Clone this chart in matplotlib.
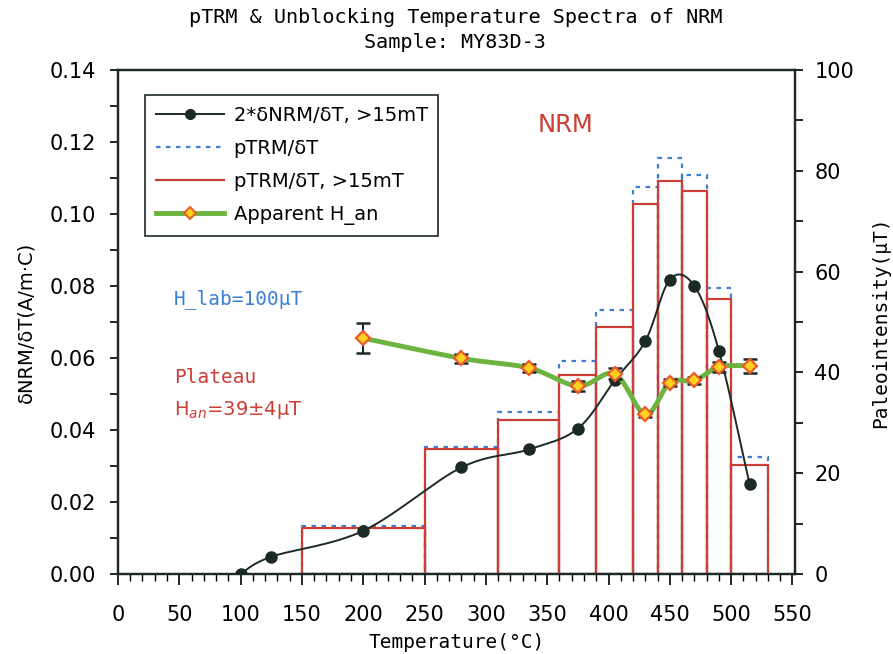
import matplotlib
matplotlib.use("Agg")
import matplotlib.pyplot as plt
import numpy as np
from matplotlib.lines import Line2D
from matplotlib.ticker import MultipleLocator

# Temperature steps (deg C) and the pTRM histogram bin edges
BIN_EDGES = [150, 250, 310, 360, 390, 420, 440, 460, 480, 500, 530]
PTRM_ALL = [0.0133, 0.0354, 0.0449, 0.0593, 0.0733, 0.1076, 0.1155, 0.1109, 0.0795, 0.0324]
PTRM_15MT = [0.0128, 0.0348, 0.0427, 0.0552, 0.0687, 0.1028, 0.1093, 0.1065, 0.0765, 0.0304]

# 2 * dNRM/dT above 15 mT
NRM_T = [100, 125, 200, 280, 335, 375, 405, 430, 450, 470, 490, 515]
NRM_VAL = [0.0000, 0.0048, 0.0120, 0.0296, 0.0346, 0.0404, 0.0538, 0.0647, 0.0818, 0.0800, 0.0620, 0.0250]

# apparent paleointensity per step (uT) and its error
HAN_T = [200, 280, 335, 375, 405, 430, 450, 470, 490, 515]
HAN_VAL = [46.8, 42.8, 40.9, 37.3, 39.7, 31.7, 38.0, 38.4, 41.1, 41.3]
HAN_ERR = [3.0, 0.9, 0.8, 1.05, 1.1, 0.5, 0.65, 0.65, 1.05, 1.45]

RED = "#cc3d34"
BLUE = "#3a7fd4"
GREEN = "#6db33f"
DARK = "#1c2a25"
MONO = "DejaVu Sans Mono"


def smooth_curve(x, y, xspan, yspan, n=30):
    """Bezier smoothing through the points (same idea as a spreadsheet 'smoothed line')."""
    px = np.asarray(x, float) / xspan
    py = np.asarray(y, float) / yspan
    pts = np.column_stack([px, py])
    pts = np.vstack([pts[0], pts, pts[-1]])
    out = []
    t = np.linspace(0, 1, n)[:, None]
    for i in range(1, len(pts) - 2):
        p0, p1, p2, p3 = pts[i - 1], pts[i], pts[i + 1], pts[i + 2]
        c1 = p1 + (p2 - p0) / 6
        c2 = p2 - (p3 - p1) / 6
        seg = ((1 - t) ** 3) * p1 + 3 * ((1 - t) ** 2) * t * c1 + 3 * (1 - t) * t ** 2 * c2 + t ** 3 * p2
        out.append(seg)
    out = np.vstack(out)
    return out[:, 0] * xspan, out[:, 1] * yspan


fig = plt.figure(figsize=(8.93, 6.54), dpi=100)
ax = fig.add_axes([0.1321, 0.1223, 0.7581, 0.7706])
ax2 = ax.twinx()

edges = np.array(BIN_EDGES, float)
widths = np.diff(edges)
ax.bar(edges[:-1], PTRM_ALL, width=widths, align="edge", fill=False,
       edgecolor=BLUE, linestyle=(0, (2, 2.5)), linewidth=1.6, zorder=2)
ax.bar(edges[:-1], PTRM_15MT, width=widths, align="edge", fill=False,
       edgecolor=RED, linewidth=1.6, zorder=3)

# NRM curve, x/y scaled by the axes' pixel size before smoothing
sx, sy = smooth_curve(NRM_T, NRM_VAL, 552 / 677, 0.14 / 504)
ax.plot(sx, sy, color=DARK, linewidth=1.4, zorder=4)
ax.plot(NRM_T, NRM_VAL, "o", color=DARK, markersize=8, zorder=5)

ax.set_xlim(0, 552)
ax.set_ylim(0, 0.14)
ax.xaxis.set_major_locator(MultipleLocator(50))
ax.xaxis.set_minor_locator(MultipleLocator(10))
ax.yaxis.set_major_locator(MultipleLocator(0.02))
ax.yaxis.set_minor_locator(MultipleLocator(0.01))
ax.yaxis.set_major_formatter(plt.FuncFormatter(lambda v, p: f"{v:.2f}"))
ax.tick_params(axis="x", which="major", direction="out", length=8, width=1.2, labelsize=15, pad=14)
ax.tick_params(axis="x", which="minor", direction="out", length=5, width=1.0)
ax.tick_params(axis="y", which="both", direction="out", length=6, width=1.2, labelsize=15, pad=10)
for s in ax.spines.values():
    s.set_linewidth(1.6)
    s.set_color(DARK)

# apparent H_an on the right axis
hx, hy = smooth_curve(HAN_T, HAN_VAL, 552 / 677, 100 / 504)
ax2.plot(hx, hy, color=GREEN, linewidth=3.5, zorder=3, solid_capstyle="round")
ax2.errorbar(HAN_T, HAN_VAL, yerr=HAN_ERR, fmt="none", ecolor=DARK,
             elinewidth=1.5, capsize=5, capthick=1.8, zorder=4)
ax2.plot(HAN_T, HAN_VAL, "D", markersize=7, markerfacecolor="#ffd21f",
         markeredgecolor="#ea5a2a", markeredgewidth=1.6, zorder=5)
ax2.set_ylim(0, 100)
ax2.yaxis.set_major_locator(MultipleLocator(20))
ax2.yaxis.set_minor_locator(MultipleLocator(10))
ax2.tick_params(axis="y", which="both", direction="out", length=6, width=1.2, labelsize=15, pad=8)
for s in ax2.spines.values():
    s.set_linewidth(1.6)
    s.set_color(DARK)

ax.set_xlabel("Temperature(°C)", family=MONO, fontsize=14, labelpad=6)
ax.set_ylabel("δNRM/δT(A/m·C)", fontsize=14, labelpad=10)
ax2.set_ylabel("Paleointensity(μT)", family=MONO, fontsize=14, labelpad=12)

fig.text(0.51, 0.988, "pTRM & Unblocking Temperature Spectra of NRM", family=MONO,
         fontsize=14.5, ha="center", va="top")
fig.text(0.51, 0.950, "Sample: MY83D-3", family=MONO, fontsize=14.5, ha="center", va="top")

ax.text(0.661, 0.89, "NRM", transform=ax.transAxes, color=RED,
        fontsize=17.5, ha="center", va="center")
ax.text(0.083, 0.545, "H_lab=100μT", transform=ax.transAxes, color=BLUE, family=MONO,
        fontsize=14, ha="left", va="center")
ax.text(0.083, 0.39, "Plateau", transform=ax.transAxes, color=RED, family=MONO,
        fontsize=14, ha="left", va="center")
ax.text(0.083, 0.325, "H$_{an}$=39±4μT", transform=ax.transAxes, color=RED,
        fontsize=14, ha="left", va="center")

handles = [
    Line2D([], [], color=DARK, marker="o", markersize=7, linewidth=1.4),
    Line2D([], [], color=BLUE, linestyle=(0, (2, 2.5)), linewidth=1.6),
    Line2D([], [], color=RED, linewidth=1.6),
    Line2D([], [], color=GREEN, linewidth=3.5, marker="D", markersize=6,
           markerfacecolor="#ffd21f", markeredgecolor="#ea5a2a", markeredgewidth=1.4),
]
labels = ["2*δNRM/δT, >15mT", "pTRM/δT", "pTRM/δT, >15mT", "Apparent H_an"]
leg = ax2.legend(handles, labels, loc="upper left", bbox_to_anchor=(0.04, 0.95),
                 borderaxespad=0, fontsize=14, frameon=True, fancybox=False, framealpha=1,
                 edgecolor=DARK, handlelength=3.5, labelspacing=0.72,
                 borderpad=0.55, handletextpad=0.5)
leg.get_frame().set_linewidth(1.2)

fig.savefig("out.png", dpi=100)
